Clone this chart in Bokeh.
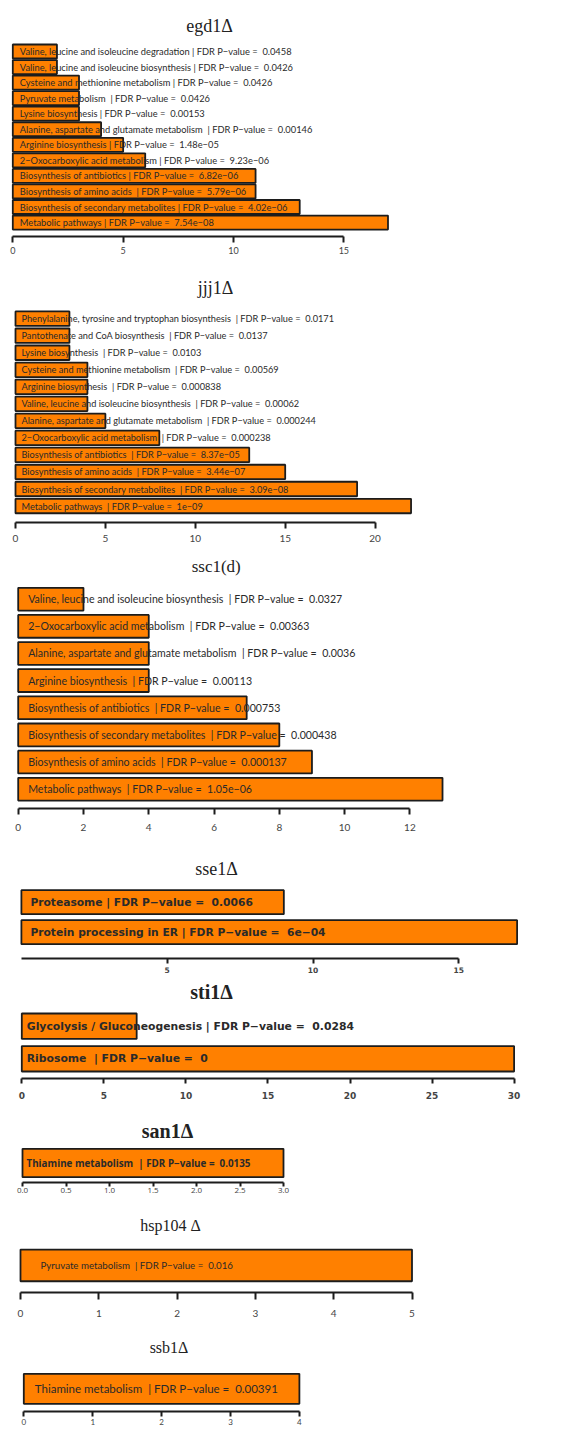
from bokeh.plotting import figure
from bokeh.layouts import column
from bokeh.models import Range1d, FixedTicker, Label, ColumnDataSource
from bokeh.core.properties import value
from bokeh.embed import file_html
from bokeh.resources import INLINE

# ---------------- data ----------------
egd1_terms = ["Valine, leucine and isoleucine degradation",
              "Valine, leucine and isoleucine biosynthesis",
              "Cysteine and methionine metabolism",
              "Pyruvate metabolism ",
              "Lysine biosynthesis",
              "Alanine, aspartate and glutamate metabolism ",
              "Arginine biosynthesis",
              "2\u2212Oxocarboxylic acid metabolism",
              "Biosynthesis of antibiotics",
              "Biosynthesis of amino acids ",
              "Biosynthesis of secondary metabolites",
              "Metabolic pathways"]
egd1_counts = [2, 2, 3, 3, 3, 4, 5, 6, 11, 11, 13, 17]
egd1_fdr = ["0.0458", "0.0426", "0.0426", "0.0426", "0.00153", "0.00146",
            "1.48e\u221205", "9.23e\u221206", "6.82e\u221206", "5.79e\u221206",
            "4.02e\u221206", "7.54e\u221208"]
egd1_ticks = [0, 5, 10, 15]

jjj1_terms = ["Phenylalanine, tyrosine and tryptophan biosynthesis ",
              "Pantothenate and CoA biosynthesis ",
              "Lysine biosynthesis ",
              "Cysteine and methionine metabolism ",
              "Arginine biosynthesis ",
              "Valine, leucine and isoleucine biosynthesis ",
              "Alanine, aspartate and glutamate metabolism ",
              "2\u2212Oxocarboxylic acid metabolism ",
              "Biosynthesis of antibiotics ",
              "Biosynthesis of amino acids ",
              "Biosynthesis of secondary metabolites ",
              "Metabolic pathways "]
jjj1_counts = [3, 3, 3, 4, 4, 4, 5, 8, 13, 15, 19, 22]
jjj1_fdr = ["0.0171", "0.0137", "0.0103", "0.00569", "0.000838", "0.00062",
            "0.000244", "0.000238", "8.37e\u221205", "3.44e\u221207",
            "3.09e\u221208", "1e\u221209"]
jjj1_ticks = [0, 5, 10, 15, 20]

ssc1_terms = ["Valine, leucine and isoleucine biosynthesis ",
              "2\u2212Oxocarboxylic acid metabolism ",
              "Alanine, aspartate and glutamate metabolism ",
              "Arginine biosynthesis ",
              "Biosynthesis of antibiotics ",
              "Biosynthesis of secondary metabolites ",
              "Biosynthesis of amino acids ",
              "Metabolic pathways "]
ssc1_counts = [2, 4, 4, 4, 7, 8, 9, 13]
ssc1_fdr = ["0.0327", "0.00363", "0.0036", "0.00113", "0.000753", "0.000438",
            "0.000137", "1.05e\u221206"]
ssc1_ticks = [0, 2, 4, 6, 8, 10, 12]

sse1_terms = ["Proteasome", "Protein processing in ER"]
sse1_counts = [9, 17]
sse1_fdr = ["0.0066", "6e\u221204"]
sse1_ticks = [5, 10, 15]

sti1_terms = ["Glycolysis / Gluconeogenesis", "Ribosome "]
sti1_counts = [7, 30]
sti1_fdr = ["0.0284", "0"]
sti1_ticks = [0, 5, 10, 15, 20, 25, 30]

san1_terms = ["Thiamine metabolism "]
san1_counts = [3]
san1_fdr = ["0.0135"]
san1_ticks = [0.0, 0.5, 1.0, 1.5, 2.0, 2.5, 3.0]

hsp104_terms = ["Pyruvate metabolism "]
hsp104_counts = [5]
hsp104_fdr = ["0.016"]
hsp104_ticks = [0, 1, 2, 3, 4, 5]

ssb1_terms = ["Thiamine metabolism "]
ssb1_counts = [4]
ssb1_fdr = ["0.00391"]
ssb1_ticks = [0, 1, 2, 3, 4]

BAR = "#FF8000"
EDGE = "#1c1c1c"
W = 570
NB = "\u00a0"


def make_label(term, p):
    t = term.rstrip()
    if term.endswith(" "):
        t = t + NB
    return t + " | FDR P\u2212value =" + NB + " " + p


def panel(title, terms, counts, fdr, ticks, fig_top, fig_h, bb, x0, ppu,
          c0, pitch, frac, tx, ty, tsize, tstyle, font, fsize, fstyle, foff,
          tick_font, tick_size, tick_style, tick_out, standoff, bounds=None,
          fmt=None):
    xs = -x0 / ppu
    xr = Range1d(xs, xs + W / ppu)
    frame_bottom = fig_top + fig_h - bb
    yr = Range1d((frame_bottom - c0) / pitch, (fig_top - c0) / pitch)
    p = figure(width=W, height=fig_h, x_range=xr, y_range=yr,
               output_backend="svg", toolbar_location=None, title=None,
               y_axis_location=None, min_border_left=0, min_border_right=0,
               min_border_top=0, min_border_bottom=bb)
    p.outline_line_color = None
    p.grid.visible = False
    ys = list(range(len(terms)))
    labels = [make_label(t, f) for t, f in zip(terms, fdr)]
    src = ColumnDataSource(dict(y=ys, right=counts, left=[0] * len(ys),
                                lab=labels))
    p.hbar(y="y", left="left", right="right", height=frac, source=src,
           fill_color=BAR, line_color=EDGE, line_width=1.8)
    p.text(x="left", y="y", text="lab", source=src, x_offset=foff,
           text_baseline="middle", text_align="left",
           text_font=value(font), text_font_size=value(f"{fsize}px"),
           text_font_style=fstyle, text_color="#2a2a2a")
    p.add_layout(Label(x=(tx - x0) / ppu, y=(ty - c0) / pitch, text=title,
                       text_align="center", text_baseline="middle",
                       text_font="Liberation Serif",
                       text_font_size=f"{tsize}px", text_font_style=tstyle,
                       text_color="#222222"))
    ax = p.xaxis[0]
    ax.ticker = FixedTicker(ticks=ticks)
    ax.bounds = bounds if bounds else (ticks[0], ticks[-1])
    ax.axis_line_color = EDGE
    ax.axis_line_width = 2
    ax.major_tick_line_color = EDGE
    ax.major_tick_line_width = 2
    ax.major_tick_in = 0
    ax.major_tick_out = tick_out
    ax.minor_tick_line_color = None
    ax.major_label_standoff = standoff
    ax.major_label_text_font = tick_font
    ax.major_label_text_font_size = f"{tick_size}px"
    ax.major_label_text_font_style = tick_style
    ax.major_label_text_color = "#444444"
    if fmt:
        ax.major_label_overrides = {t: fmt % t for t in ticks}
    return p


figs = [
    panel("egd1\u0394", egd1_terms, egd1_counts, egd1_fdr, egd1_ticks,
          0, 268, 32, 12.3, 22.07, 51, 15.55, 0.9, 209, 25, 18, "normal",
          "Lato", 9.3, "normal", 7, "Lato", 9, "normal", 6, 4),
    panel("jjj1\u0394", jjj1_terms, jjj1_counts, jjj1_fdr, jjj1_ticks,
          268, 282, 28, 15, 17.98, 318.2, 17.03, 0.85, 215, 287, 18, "normal",
          "Lato", 9.2, "normal", 6, "Lato", 10, "normal", 6, 6),
    panel("ssc1(d)", ssc1_terms, ssc1_counts, ssc1_fdr, ssc1_ticks,
          550, 296, 38, 17.7, 32.64, 598.7, 27.14, 0.84, 215.7, 566, 17,
          "normal", "Lato", 10.6, "normal", 10, "Lato", 10, "normal", 6, 9),
    panel("sse1\u0394", sse1_terms, sse1_counts, sse1_fdr, sse1_ticks,
          846, 134, 22, 20.9, 29.16, 901.7, 30, 0.8, 216, 868, 18, "normal",
          "DejaVu Sans", 10.7, "bold", 9, "DejaVu Sans", 7.5, "bold", 5, 3,
          bounds=(0, 15)),
    panel("sti1\u0394", sti1_terms, sti1_counts, sti1_fdr, sti1_ticks,
          980, 130, 32, 21.3, 16.41, 1025.7, 32.6, 0.78, 211, 991.7, 20,
          "bold", "DejaVu Sans", 10.8, "bold", 5, "DejaVu Sans", 9, "bold",
          5, 8),
    panel("san1\u0394", san1_terms, san1_counts, san1_fdr, san1_ticks,
          1110, 95, 23, 22, 87, 1162.5, 35.5, 0.8, 167, 1130, 20, "bold",
          "Open Sans", 9.8, "bold", 4, "Open Sans", 8, "normal", 4, 1,
          fmt="%.1f"),
    panel("hsp104 \u0394", hsp104_terms, hsp104_counts, hsp104_fdr,
          hsp104_ticks, 1205, 125, 38, 20, 78.3, 1264.9, 39.6, 0.8, 170,
          1225, 16, "normal", "Lato", 9.7, "normal", 20, "Lato", 10, "normal",
          7, 10),
    panel("ssb1\u0394", ssb1_terms, ssb1_counts, ssb1_fdr, ssb1_ticks,
          1330, 98, 17, 23.3, 68.9, 1388.3, 37.5, 0.8, 168.5, 1346.7, 16,
          "normal", "Lato", 11.5, "normal", 11, "Lato", 8, "normal", 5, 2),
]

layout = column(*figs, spacing=0)
open("out.html", "w").write(file_html(layout, INLINE))
